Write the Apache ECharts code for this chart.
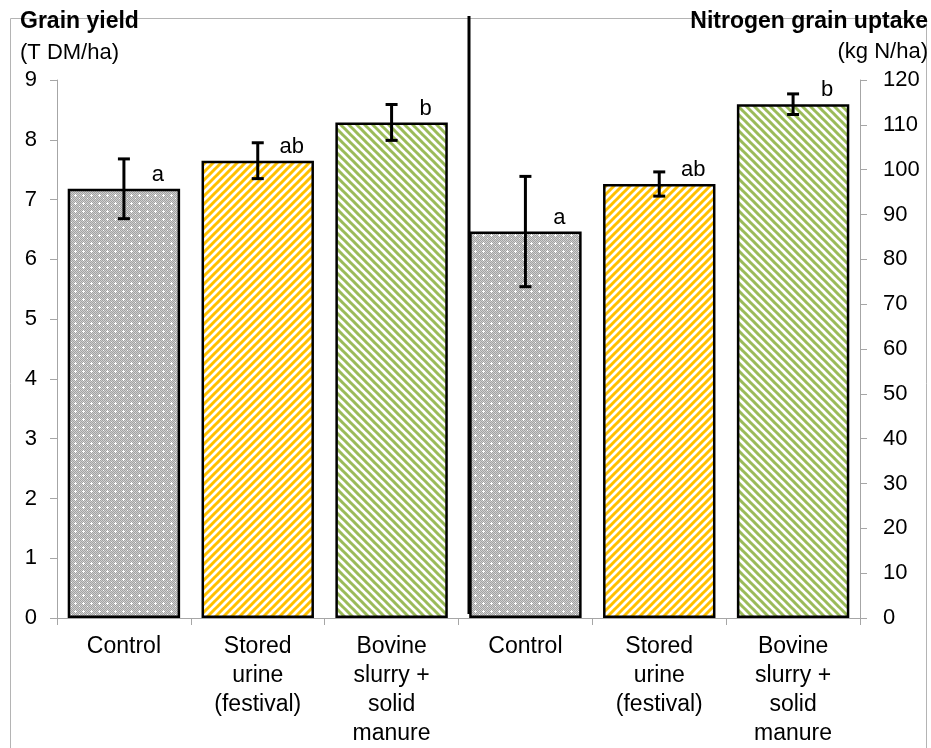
<!DOCTYPE html>
<html>
<head>
<meta charset="utf-8">
<script src="https://cdn.jsdelivr.net/npm/echarts@6/dist/echarts.min.js"></script>
<style>
  html, body {margin: 0; padding: 0; background: #fff;}
  #chart {width: 931px; height: 748px;}
</style>
</head>
<body>
<div id="chart"></div>
<script>
// category labels (left half = grain yield, right half = N uptake)
var categories = ['Control', 'Stored\nurine\n(festival)', 'Bovine\nslurry +\nsolid\nmanure',
                  'Control', 'Stored\nurine\n(festival)', 'Bovine\nslurry +\nsolid\nmanure'];
// grain yield, T DM/ha (left axis)
var yield_mean = [7.18, 7.65, 8.29];
var yield_err = [0.50, 0.30, 0.30];
var yield_letters = ['a', 'ab', 'b'];
// nitrogen grain uptake, kg N/ha (right axis)
var uptake_mean = [86.2, 96.8, 114.6];
var uptake_err = [12.3, 2.7, 2.3];
var uptake_letters = ['a', 'ab', 'b'];
// axis ranges
var yield_axis = {min: 0, max: 9, interval: 1};
var uptake_axis = {min: 0, max: 120, interval: 10};

var FONT = '"Liberation Sans", Arial, sans-serif';

function make_tile(kind) {
    var c = document.createElement('canvas');
    var s = 8;
    c.width = s; c.height = s;
    var g = c.getContext('2d');
    g.fillStyle = '#fff';
    g.fillRect(0, 0, s, s);
    if (kind === 'dots') {
        g.fillStyle = '#cfcfcf';
        g.fillRect(0, 0, s, s);
        g.fillStyle = '#a2a2a2';
        for (var i = 0; i < s; i++) {
            for (var j = 0; j < s; j++) {
                if ((i + j) % 2 === 0) g.fillRect(i, j, 1, 1);
            }
        }
        g.fillStyle = '#ffffff';
        g.fillRect(3, 2, 1, 3);
        g.fillRect(2, 3, 3, 1);
        g.fillRect(7, 6, 1, 1);
    } else {
        g.strokeStyle = kind === 'yellow' ? '#ffc000' : '#9bbb59';
        g.lineWidth = 3;
        g.beginPath();
        if (kind === 'yellow') {
            for (var k = -1; k <= 1; k++) {
                g.moveTo(k * s - 1, s + 1);
                g.lineTo(k * s + s + 1, -1);
            }
        } else {
            for (var k = -1; k <= 1; k++) {
                g.moveTo(k * s - 1, -1);
                g.lineTo(k * s + s + 1, s + 1);
            }
        }
        g.stroke();
    }
    return {image: c, repeat: 'repeat'};
}
var patterns = [make_tile('dots'), make_tile('yellow'), make_tile('green')];

function err_item(params, api) {
    var x = api.value(0), m = api.value(1), e = api.value(2);
    var top = api.coord([x, m + e]);
    var bot = api.coord([x, m - e]);
    var cap = 6;
    var st = {stroke: '#000', lineWidth: 3};
    return {type: 'group', children: [
        {type: 'line', shape: {x1: top[0], y1: top[1], x2: bot[0], y2: bot[1]}, style: st},
        {type: 'line', shape: {x1: top[0] - cap, y1: top[1], x2: top[0] + cap, y2: top[1]}, style: st},
        {type: 'line', shape: {x1: bot[0] - cap, y1: bot[1], x2: bot[0] + cap, y2: bot[1]}, style: st}
    ]};
}

var yield_data = yield_mean.concat(['-', '-', '-']);
var uptake_data = ['-', '-', '-'].concat(uptake_mean);
var yield_err_data = yield_mean.map((v, i) => [i, v, yield_err[i]]);
var uptake_err_data = uptake_mean.map((v, i) => [i + 3, v, uptake_err[i]]);

var bar_common = {
    type: 'bar',
    barWidth: '84%',
    barGap: '-100%',
    itemStyle: {
        color: p => patterns[p.dataIndex % 3],
        borderColor: '#000',
        borderWidth: 2.5
    },
    silent: true
};
var label_common = {
    show: true, position: 'top', distance: 3, offset: [34, 0],
    color: '#000', fontFamily: FONT, fontSize: 22
};

var y_common = {
    type: 'value',
    splitLine: {show: false},
    axisLine: {show: true, lineStyle: {color: '#a6a6a6', width: 1}},
    axisTick: {show: true, length: 7, lineStyle: {color: '#a6a6a6'}},
    axisLabel: {color: '#000', fontFamily: FONT, fontSize: 22}
};

var chart = echarts.init(document.getElementById('chart'));
chart.setOption({
    animation: false,
    textStyle: {fontFamily: FONT},
    grid: {left: 57, right: 71, top: 80, bottom: 129},
    xAxis: {
        type: 'category',
        data: categories,
        axisLine: {lineStyle: {color: '#a6a6a6'}},
        axisTick: {show: true, length: 7, alignWithLabel: false, lineStyle: {color: '#a6a6a6'}},
        axisLabel: {color: '#000', fontFamily: FONT, fontSize: 23, lineHeight: 29, margin: 14, interval: 0}
    },
    yAxis: [
        Object.assign({}, y_common, yield_axis, {position: 'left',
            axisLabel: Object.assign({}, y_common.axisLabel, {margin: 20})}),
        Object.assign({}, y_common, uptake_axis, {position: 'right',
            axisLabel: Object.assign({}, y_common.axisLabel, {margin: 23})})
    ],
    series: [
        Object.assign({}, bar_common, {name: 'Grain yield', yAxisIndex: 0, data: yield_data,
            label: Object.assign({}, label_common, {formatter: p => yield_letters[p.dataIndex] || ''})}),
        Object.assign({}, bar_common, {name: 'Nitrogen grain uptake', yAxisIndex: 1, data: uptake_data,
            label: Object.assign({}, label_common, {formatter: p => uptake_letters[p.dataIndex - 3] || ''})}),
        {type: 'custom', yAxisIndex: 0, data: yield_err_data, renderItem: err_item, z: 5, silent: true,
            encode: {x: 0, y: [1]}},
        {type: 'custom', yAxisIndex: 1, data: uptake_err_data, renderItem: err_item, z: 5, silent: true,
            encode: {x: 0, y: [1]}}
    ],
    graphic: [
        {type: 'rect', shape: {x: 10.5, y: 18.5, width: 916, height: 760},
            style: {fill: null, stroke: '#b4b4b4', lineWidth: 1}, silent: true},
        {type: 'line', shape: {x1: 469, y1: 16, x2: 469, y2: 614},
            style: {stroke: '#000', lineWidth: 3}, z: 10, silent: true},
        {type: 'text', x: 20, y: 22, style: {text: 'Grain yield', font: 'bold 23px ' + FONT,
            fill: '#000', textVerticalAlign: 'middle'}},
        {type: 'text', x: 20, y: 53, style: {text: '(T DM/ha)', font: '22px ' + FONT,
            fill: '#000', textVerticalAlign: 'middle'}},
        {type: 'text', x: 928, y: 22, style: {text: 'Nitrogen grain uptake', font: 'bold 23px ' + FONT,
            fill: '#000', textAlign: 'right', textVerticalAlign: 'middle'}},
        {type: 'text', x: 928, y: 52, style: {text: '(kg N/ha)', font: '22px ' + FONT,
            fill: '#000', textAlign: 'right', textVerticalAlign: 'middle'}}
    ]
});
</script>
</body>
</html>
